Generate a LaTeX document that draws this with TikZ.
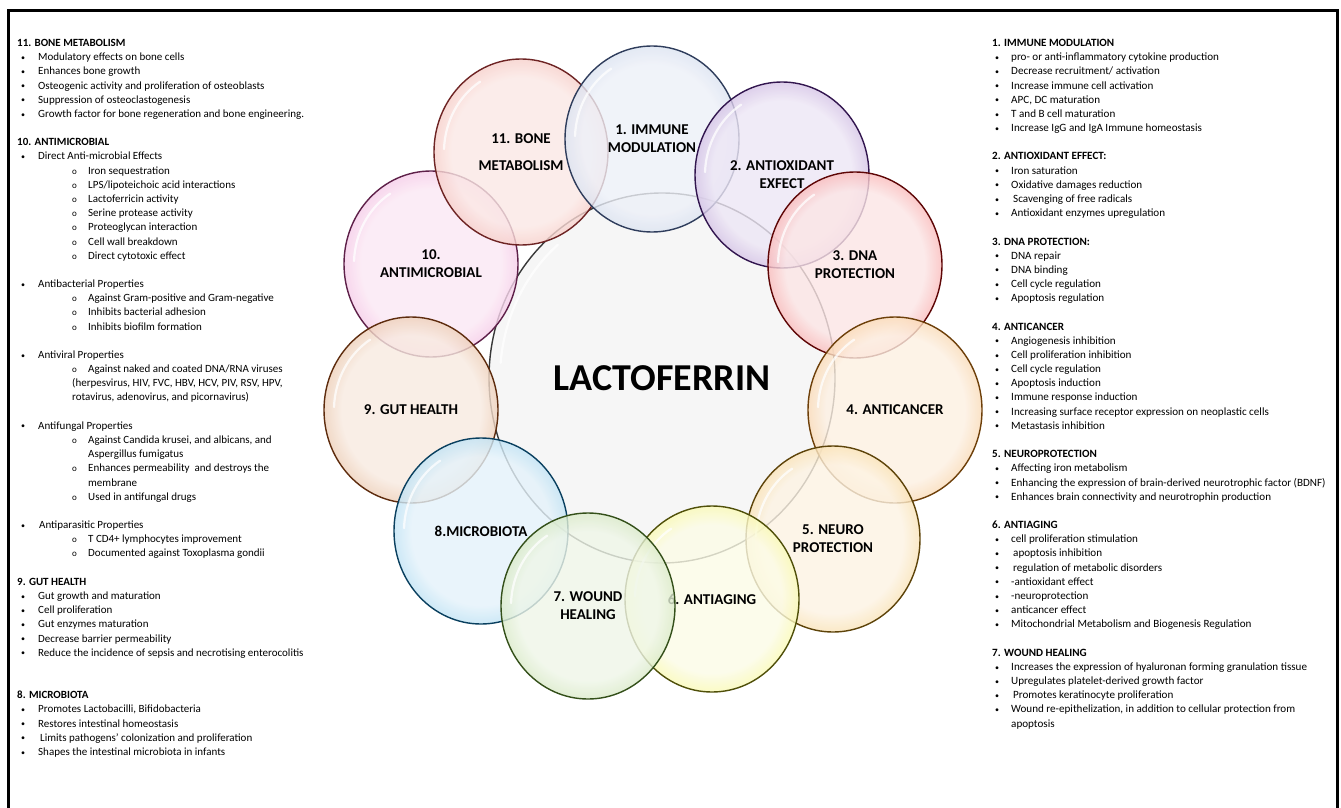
\documentclass[tikz,border=0pt]{standalone}
\usepackage{fontspec}
\setmainfont{Carlito}
\usetikzlibrary{shapes.geometric}

\colorlet{glin}{white}\colorlet{glmid}{gray}\colorlet{glout}{gray}
\pgfdeclareradialshading[glin,glmid,glout]{glassy}{\pgfpoint{0bp}{0bp}}{color(0bp)=(glin); color(20bp)=(glin); color(29bp)=(glmid); color(34bp)=(glout); color(50bp)=(glout)}
\pgfdeclareradialshading[glin,glmid,glout]{glassybig}{\pgfpoint{0bp}{0bp}}{color(0bp)=(glin); color(28bp)=(glin); color(32.5bp)=(glmid); color(35bp)=(glout); color(50bp)=(glout)}

\definecolor{inA}{HTML}{EDF0F8}\definecolor{miA}{HTML}{CFDAEC}\definecolor{ouA}{HTML}{8EA6CF}\definecolor{bdA}{HTML}{2F3D5C}
\definecolor{inB}{HTML}{FBE8E5}\definecolor{miB}{HTML}{F4BDB6}\definecolor{ouB}{HTML}{E57A72}\definecolor{bdB}{HTML}{6E2424}
\definecolor{inC}{HTML}{EDE6F5}\definecolor{miC}{HTML}{C3AADB}\definecolor{ouC}{HTML}{7040A0}\definecolor{bdC}{HTML}{32164F}
\definecolor{inD}{HTML}{FCE5E5}\definecolor{miD}{HTML}{F79C9C}\definecolor{ouD}{HTML}{EE1010}\definecolor{bdD}{HTML}{5E0606}
\definecolor{inE}{HTML}{FBE8F4}\definecolor{miE}{HTML}{F2B8E0}\definecolor{ouE}{HTML}{E07CC2}\definecolor{bdE}{HTML}{5E2049}
\definecolor{inF}{HTML}{F8EAE0}\definecolor{miF}{HTML}{E6BC9C}\definecolor{ouF}{HTML}{C0692F}\definecolor{bdF}{HTML}{5E2C0E}
\definecolor{inG}{HTML}{FDF0E2}\definecolor{miG}{HTML}{F8CC98}\definecolor{ouG}{HTML}{F0973A}\definecolor{bdG}{HTML}{6E400A}
\definecolor{inH}{HTML}{E4F2FA}\definecolor{miH}{HTML}{A6D8F2}\definecolor{ouH}{HTML}{1EA2E2}\definecolor{bdH}{HTML}{0A405F}
\definecolor{inI}{HTML}{FDF3E3}\definecolor{miI}{HTML}{F8D898}\definecolor{ouI}{HTML}{F0B030}\definecolor{bdI}{HTML}{5E440A}
\definecolor{inJ}{HTML}{EFF6E8}\definecolor{miJ}{HTML}{CBE2B2}\definecolor{ouJ}{HTML}{8DBE58}\definecolor{bdJ}{HTML}{34501A}
\definecolor{inK}{HTML}{FCFCE6}\definecolor{miK}{HTML}{F8F890}\definecolor{ouK}{HTML}{EEEE00}\definecolor{bdK}{HTML}{50500A}
\definecolor{inL}{HTML}{F4F4F4}\definecolor{miL}{HTML}{DDDDDD}\definecolor{ouL}{HTML}{A8A8A8}\definecolor{bdL}{HTML}{383838}

\newlength\bulind \newlength\bulwd
\newcommand\hd[1]{\textbf{#1}\par}
\newcommand\bl[1]{\hspace*{\bulind}\makebox[\bulwd][l]{\raisebox{0.4pt}{\fontsize{8}{8}\selectfont\textbullet}}#1\par}
\newcommand\sbl[1]{\hspace*{55pt}\makebox[16pt][l]{\fontsize{9}{9}\selectfont o}#1\par}
\newcommand\ct[2]{\hspace*{#1}#2\par}
\newcommand\gap{\mbox{}\par}
\newcommand\hilite[1]{\draw[hl, shift={(#1.center)}] (182:77 and 83) arc[start angle=182, end angle=238, x radius=77, y radius=83];}

\tikzset{
  bub/.style n args={4}{ellipse, minimum width=174pt, minimum height=186pt, inner sep=0pt,
    /utils/exec={\colorlet{glin}{#1}\colorlet{glmid}{#2}\colorlet{glout}{#3}},
    shading=glassy, draw=#4, line width=1.4pt, fill opacity=0.8, text opacity=1,
    font=\fontsize{15}{18}\selectfont\bfseries, align=center, text=black},
  col/.style={anchor=base west, inner sep=0pt},
  hl/.style={white, line width=2.2pt, line cap=round, opacity=0.75},
}

\begin{document}
\begin{tikzpicture}[x=1pt,y=-1pt]
\useasboundingbox (0,0) rectangle (1341,808);
\fill[white] (0,0) rectangle (1341,808);
\draw[line width=3pt] (8,808) -- (8,11) -- (1337,11) -- (1337,808);

% circles
\node[bub={inL}{miL}{ouL}{bdL}, shading=glassybig, minimum width=346pt, minimum height=370pt, font=\fontsize{38}{40}\selectfont\bfseries] (lf) at (662,378) {LACTOFERRIN};
\draw[hl, shift={(lf.center)}] (185:162 and 174) arc[start angle=185, end angle=230, x radius=162, y radius=174];
\node[bub={inE}{miE}{ouE}{bdE}] (c10) at (431,264) {10.\\ANTIMICROBIAL};
\hilite{c10}
\node[bub={inF}{miF}{ouF}{bdF}] (c9) at (411,410) {9. GUT HEALTH};
\hilite{c9}
\node[bub={inB}{miB}{ouB}{bdB}] (c11) at (521,152) {11. BONE\\[9pt]METABOLISM};
\hilite{c11}
\node[bub={inA}{miA}{ouA}{bdA}] (c1) at (652,139) {1. IMMUNE\\MODULATION};
\hilite{c1}
\node[bub={inC}{miC}{ouC}{bdC}] (c2) at (782,175) {2. ANTIOXIDANT\\EXFECT};
\hilite{c2}
\node[bub={inD}{miD}{ouD}{bdD}] (c3) at (855,265) {3. DNA\\PROTECTION};
\hilite{c3}
\node[bub={inG}{miG}{ouG}{bdG}] (c4) at (895,410) {4. ANTICANCER};
\hilite{c4}
\node[bub={inI}{miI}{ouI}{bdI}] (c5) at (833,539) {5. NEURO\\PROTECTION};
\hilite{c5}
\node[bub={inK}{miK}{ouK}{bdK}] (c6) at (712,599) {6. ANTIAGING};
\hilite{c6}
\node[bub={inH}{miH}{ouH}{bdH}] (c8) at (481,531) {8.MICROBIOTA};
\hilite{c8}
\node[bub={inJ}{miJ}{ouJ}{bdJ}] (c7) at (588,606) {7. WOUND\\HEALING};
\hilite{c7}

% left column
\node[col] (left) at (17,46.5) {\begin{minipage}[t]{330pt}\fontsize{11}{14.18}\selectfont
\setlength\bulind{4pt}\setlength\bulwd{17pt}%
\hd{11. BONE METABOLISM}
\bl{Modulatory effects on bone cells}
\bl{Enhances bone growth}
\bl{Osteogenic activity and proliferation of osteoblasts}
\bl{Suppression of osteoclastogenesis}
\bl{Growth factor for bone regeneration and bone engineering.}
\gap
\hd{10. ANTIMICROBIAL}
\bl{Direct Anti-microbial Effects}
\sbl{Iron sequestration}
\sbl{LPS/lipoteichoic acid interactions}
\sbl{Lactoferricin activity}
\sbl{Serine protease activity}
\sbl{Proteoglycan interaction}
\sbl{Cell wall breakdown}
\sbl{Direct cytotoxic effect}
\gap
\bl{Antibacterial Properties}
\sbl{Against Gram-positive and Gram-negative}
\sbl{Inhibits bacterial adhesion}
\sbl{Inhibits biofilm formation}
\gap
\bl{Antiviral Properties}
\sbl{Against naked and coated DNA/RNA viruses}
\ct{55pt}{(herpesvirus, HIV, FVC, HBV, HCV, PIV, RSV, HPV,}
\ct{55pt}{rotavirus, adenovirus, and picornavirus)}
\gap
\bl{Antifungal Properties}
\sbl{Against Candida krusei, and albicans, and}
\ct{71pt}{Aspergillus fumigatus}
\sbl{Enhances permeability\ \ and destroys the}
\ct{71pt}{membrane}
\sbl{Used in antifungal drugs}
\gap
\bl{\hspace{1pt}Antiparasitic Properties}
\sbl{T CD4+ lymphocytes improvement}
\sbl{Documented against Toxoplasma gondii}
\gap
\hd{9. GUT HEALTH}
\bl{Gut growth and maturation}
\bl{Cell proliferation}
\bl{Gut enzymes maturation}
\bl{Decrease barrier permeability}
\bl{Reduce the incidence of sepsis and necrotising enterocolitis}
\gap
\gap
\hd{8. MICROBIOTA}
\bl{Promotes Lactobacilli, Bifidobacteria}
\bl{Restores intestinal homeostasis}
\bl{\hspace{2pt}Limits pathogens' colonization and proliferation}
\bl{Shapes the intestinal microbiota in infants}
\end{minipage}};

% right column
\node[col] (right) at (992,46.5) {\begin{minipage}[t]{340pt}\fontsize{11.1}{14.18}\selectfont
\setlength\bulind{3pt}\setlength\bulwd{16pt}%
\hd{1. IMMUNE MODULATION}
\bl{pro- or anti-inflammatory cytokine production}
\bl{Decrease recruitment/ activation}
\bl{Increase immune cell activation}
\bl{APC, DC maturation}
\bl{T and B cell maturation}
\bl{Increase IgG and IgA Immune homeostasis}
\gap
\hd{2. ANTIOXIDANT EFFECT:}
\bl{Iron saturation}
\bl{Oxidative damages reduction}
\bl{\hspace{2pt}Scavenging of free radicals}
\bl{Antioxidant enzymes upregulation}
\gap
\hd{3. DNA PROTECTION:}
\bl{DNA repair}
\bl{DNA binding}
\bl{Cell cycle regulation}
\bl{Apoptosis regulation}
\gap
\hd{4. ANTICANCER}
\bl{Angiogenesis inhibition}
\bl{Cell proliferation inhibition}
\bl{Cell cycle regulation}
\bl{Apoptosis induction}
\bl{Immune response induction}
\bl{Increasing surface receptor expression on neoplastic cells}
\bl{Metastasis inhibition}
\gap
\hd{5. NEUROPROTECTION}
\bl{Affecting iron metabolism}
\bl{Enhancing the expression of brain-derived neurotrophic factor (BDNF)}
\bl{Enhances brain connectivity and neurotrophin production}
\gap
\hd{6. ANTIAGING}
\bl{cell proliferation stimulation}
\bl{\hspace{2pt}apoptosis inhibition}
\bl{\hspace{2pt}regulation of metabolic disorders}
\bl{-antioxidant effect}
\bl{-neuroprotection}
\bl{anticancer effect}
\bl{Mitochondrial Metabolism and Biogenesis Regulation}
\gap
\hd{7. WOUND HEALING}
\bl{Increases the expression of hyaluronan forming granulation tissue}
\bl{Upregulates platelet-derived growth factor}
\bl{\hspace{2pt}Promotes keratinocyte proliferation}
\bl{Wound re-epithelization, in addition to cellular protection from}
\ct{19pt}{apoptosis}
\end{minipage}};
\end{tikzpicture}
\end{document}
